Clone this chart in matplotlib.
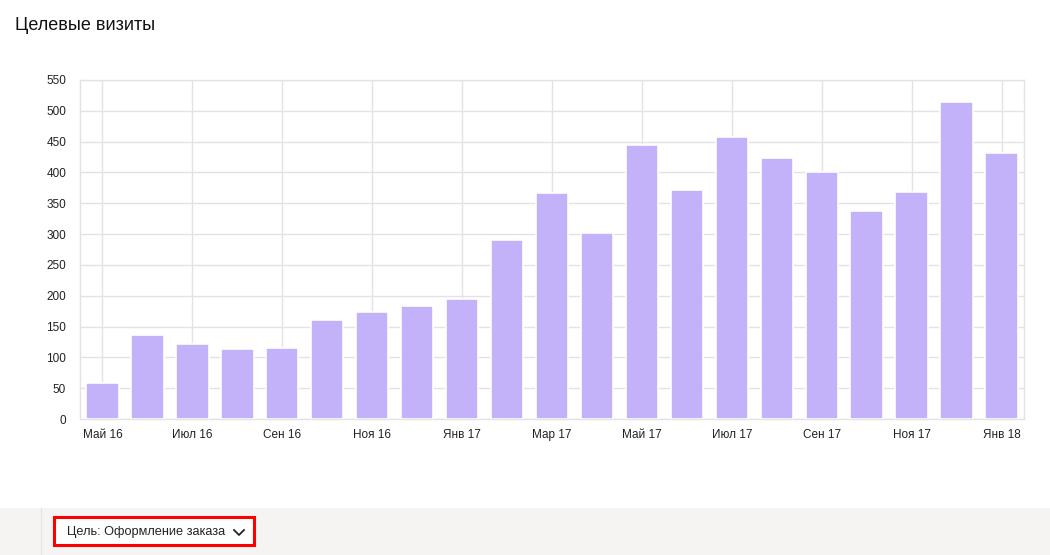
import numpy as np
import matplotlib.pyplot as plt
from matplotlib.patches import Rectangle

months = ['Май 16', 'Июн 16', 'Июл 16', 'Авг 16', 'Сен 16', 'Окт 16', 'Ноя 16',
          'Дек 16', 'Янв 17', 'Фев 17', 'Мар 17', 'Апр 17', 'Май 17', 'Июн 17',
          'Июл 17', 'Авг 17', 'Сен 17', 'Окт 17', 'Ноя 17', 'Дек 17', 'Янв 18']
visits = [59, 137, 122, 114, 116, 161, 174, 184, 194, 291, 367, 301, 444,
          371, 458, 424, 400, 337, 369, 514, 432]
yticks = [0, 50, 100, 150, 200, 250, 300, 350, 400, 450, 500, 550]

plt.rcParams['font.family'] = ['Liberation Sans', 'DejaVu Sans']

fig = plt.figure(figsize=(10.5, 5.55), dpi=100)
ax = fig.add_axes([80/1050, 1-419/555, 944/1050, 339/555])

x = np.arange(len(months))
ax.bar(x, visits, width=0.72, color='#c3b1f9', edgecolor='white',
       linewidth=1.2, zorder=3)

ax.set_xlim(-0.5, len(months)-0.5)
ax.set_ylim(0, 550)
ax.set_yticks(yticks)
ax.set_xticks(x[::2])
ax.set_xticklabels(months[::2], va='baseline')
ax.grid(True, color='#e3e3e3', linewidth=1, zorder=0)
for s in ax.spines.values():
    s.set_color('#e3e3e3')
    s.set_linewidth(1)
ax.tick_params(length=0, labelsize=8.5, colors='#222222')
ax.tick_params(axis='x', pad=13.5)
ax.tick_params(axis='y', pad=10)

fig.text(15/1050, 1-25/555, 'Целевые визиты', fontsize=13, color='#111111',
         va='center', ha='left')

# bottom panel
fig.patches.append(Rectangle((0, 0), 1, 47/555, transform=fig.transFigure,
                             facecolor='#f5f4f2', edgecolor='none', zorder=0))
fig.add_artist(plt.Line2D([41/1050, 41/1050], [0, 47/555],
                          transform=fig.transFigure, color='#e6e5e2', lw=1))
fig.patches.append(Rectangle((54/1050, 1-545/555), 200/1050, 28/555,
                             transform=fig.transFigure, facecolor='white',
                             edgecolor='#ff0000', linewidth=2.2, zorder=1))
fig.text(67/1050, 1-532/555, 'Цель: Оформление заказа', fontsize=9.2,
         color='#222222', va='center', ha='left')
fig.add_artist(plt.Line2D([234/1050, 239/1050, 244/1050],
                          [1-530/555, 1-535/555, 1-530/555],
                          transform=fig.transFigure, color='#222222', lw=1.3))

fig.savefig('out.png', dpi=100)
